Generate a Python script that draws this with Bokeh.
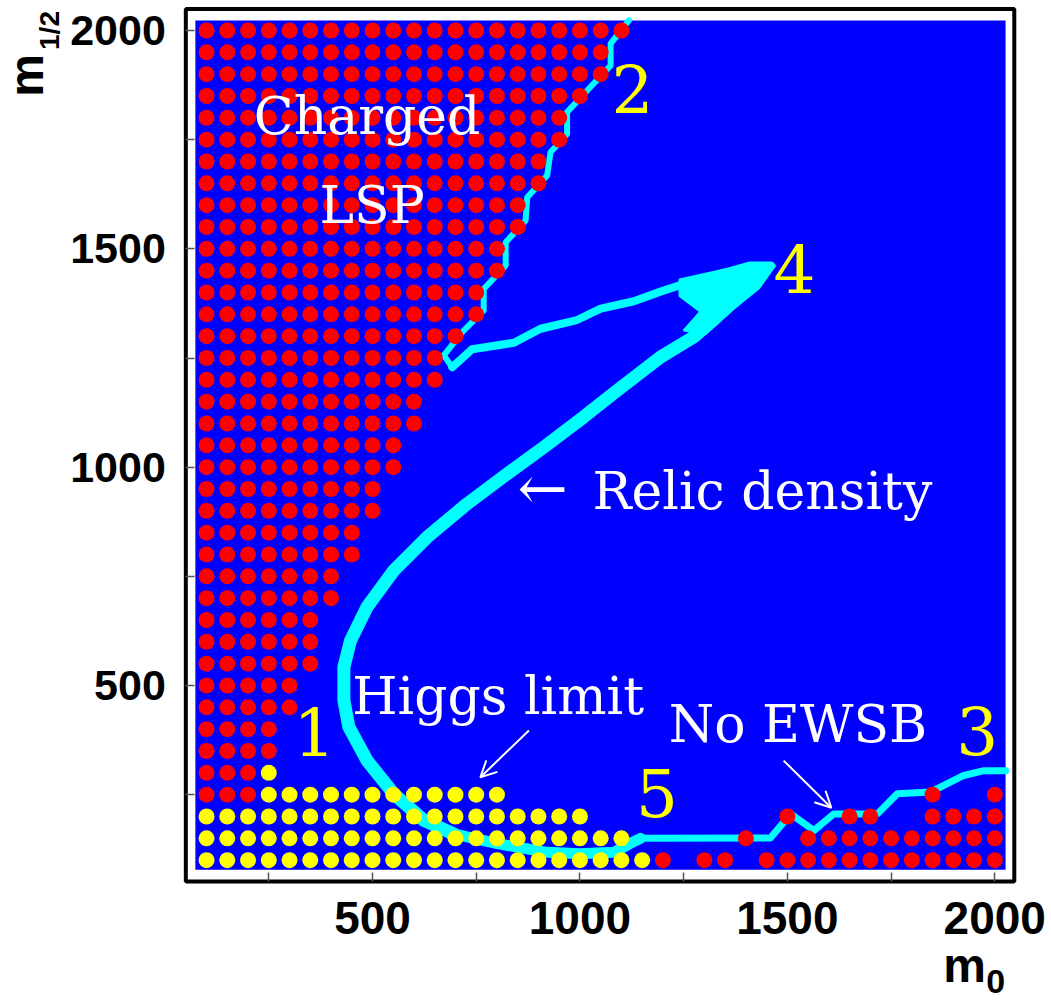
import math
from bokeh.plotting import figure
from bokeh.models import FixedTicker, Arrow, OpenHead
from bokeh.embed import file_html
from bokeh.resources import INLINE
from bokeh.core.properties import value

# ---------------- data ----------------
grid_step = 50
# Charged LSP (red) region: rows of m_1/2 and the largest m0 in each row (starting at m0=100)
lsp_m12 = [2000, 1950, 1900, 1850, 1800, 1750, 1700, 1650, 1600, 1550, 1500, 1450,
           1400, 1350, 1300, 1250, 1200, 1150, 1100, 1050, 1000, 950, 900, 850,
           800, 750, 700, 650, 600, 550, 500, 450, 400, 350, 300, 250]
lsp_m0_max = [1100, 1050, 1050, 1000, 950, 950, 900, 900, 850, 850, 800, 800,
              750, 750, 700, 650, 650, 600, 600, 550, 550, 500, 500, 450,
              450, 400, 400, 350, 350, 350, 300, 300, 250, 250, 200, 200]
lsp_m0_min = 100

# Higgs limit (yellow) rows
higgs_m12 = [300, 250, 200, 150, 100]
higgs_m0_min = [250, 250, 100, 100, 100]
higgs_m0_max = [250, 800, 1000, 1100, 1150]

# No EWSB (red) points at low m_1/2
ewsb_m0 = [1200, 1300, 1350, 1450, 1500, 1550, 1600, 1650, 1700, 1750, 1800, 1850, 1900, 1950, 2000,
           1400, 1550, 1600, 1650, 1700, 1750, 1800, 1850, 1900, 1950, 2000,
           1500, 1650, 1700, 1850, 1900, 1950, 2000,
           1850, 2000]
ewsb_m12 = [100] * 15 + [150] * 11 + [200] * 7 + [250] * 2

# Relic density band (cyan)
relic_edge_m0 = [1118, 1074, 1074, 1018, 969, 969, 929, 921, 873, 869, 821, 821, 768, 768, 716, 672, 692]
relic_edge_m12 = [2023, 1970, 1920, 1863, 1813, 1763, 1721, 1668, 1618, 1565, 1515, 1462, 1408, 1359, 1309, 1256, 1229]
relic_upper_m0 = [692, 740, 841, 905, 993, 1050, 1130, 1194, 1259, 1355, 1411, 1460]
relic_upper_m12 = [1229, 1270, 1285, 1317, 1337, 1363, 1380, 1402, 1422, 1447, 1462, 1462]
relic_tip_m0 = [1240, 1411, 1471, 1431, 1371, 1303, 1250, 1290, 1240]
relic_tip_m12 = [1430, 1466, 1462, 1409, 1363, 1305, 1313, 1356, 1392]
relic_lower_m0 = [1330, 1274, 1194, 1090, 1009, 913, 825, 728, 632, 551, 487, 447, 431, 431, 443, 487, 551, 624, 696]
relic_lower_m12 = [1345, 1298, 1252, 1176, 1115, 1046, 985, 916, 840, 763, 680, 603, 542, 466, 405, 328, 252, 191, 160]
relic_bottom_m0 = [696, 801, 921, 1001, 1082, 1120, 1146]
relic_bottom_m12 = [160, 138, 118, 115, 118, 138, 150]
relic_ewsb_m0 = [1146, 1459, 1508, 1564, 1612, 1717, 1765, 1845, 1925, 1974, 2026]
relic_ewsb_m12 = [150, 151, 206, 168, 206, 206, 252, 256, 294, 305, 305]

tick_values = [250, 500, 750, 1000, 1250, 1500, 1750, 2000]
tick_labels = {250: "", 500: "500", 750: "", 1000: "1000", 1250: "", 1500: "1500", 1750: "", 2000: "2000"}

# ---------------- build point sets ----------------
red_x, red_y = [], []
for m12, mx in zip(lsp_m12, lsp_m0_max):
    for m0 in range(lsp_m0_min, mx + 1, grid_step):
        red_x.append(m0)
        red_y.append(m12)
red_x += ewsb_m0
red_y += ewsb_m12

yel_x, yel_y = [], []
for m12, lo, hi in zip(higgs_m12, higgs_m0_min, higgs_m0_max):
    for m0 in range(lo, hi + 1, grid_step):
        yel_x.append(m0)
        yel_y.append(m12)

# ---------------- figure (frame spans the whole canvas; axes fixed at the box edges) ----------------
BOX_L, BOX_R, BOX_B, BOX_T = 50, 2047, 51, 2049
p = figure(width=1051, height=1002, x_range=(-396.7, 2136.7), y_range=(-225.9, 2068.7),
           output_backend="svg", toolbar_location=None, min_border=0)
p.background_fill_color = "white"
p.border_fill_color = "white"
p.outline_line_color = None
p.xgrid.grid_line_color = None
p.ygrid.grid_line_color = None

for ax, fs in ((p.xaxis[0], "46px"), (p.yaxis[0], "43px")):
    ax.ticker = FixedTicker(ticks=tick_values, minor_ticks=[])
    ax.major_label_overrides = tick_labels
    ax.major_label_text_font = "Liberation Sans"
    ax.major_label_text_font_style = "bold"
    ax.major_label_text_font_size = fs
    ax.major_label_text_color = "black"
    ax.axis_line_color = None
    ax.major_tick_in = 9
    ax.major_tick_out = 0
    ax.major_tick_line_color = "#555555"
    ax.major_tick_line_width = 1.5
    ax.minor_tick_line_color = None
p.xaxis.fixed_location = BOX_B
p.yaxis.fixed_location = BOX_L
p.xaxis.major_label_standoff = 20
p.yaxis.major_label_standoff = 20

# blue area and black box
p.quad(left=[73], right=[2026], bottom=[78], top=[2023], fill_color="#0000ff", line_color=None)
p.quad(left=[BOX_L], right=[BOX_R], bottom=[BOX_B], top=[BOX_T], fill_color=None,
       line_color="black", line_width=4)

cyan = "#00ffff"
p.patch(relic_tip_m0, relic_tip_m12, fill_color=cyan, line_color=cyan, line_width=2)
p.line(relic_edge_m0, relic_edge_m12, line_color=cyan, line_width=6, line_join="round", line_cap="round")
p.line(relic_upper_m0, relic_upper_m12, line_color=cyan, line_width=8, line_join="round", line_cap="round")
p.line(relic_lower_m0, relic_lower_m12, line_color=cyan, line_width=13, line_join="round", line_cap="round")
p.line(relic_bottom_m0, relic_bottom_m12, line_color=cyan, line_width=11, line_join="round", line_cap="round")
p.line(relic_ewsb_m0, relic_ewsb_m12, line_color=cyan, line_width=7, line_join="round", line_cap="round")

p.scatter(red_x, red_y, marker="circle", size=16, fill_color="#ff0000", line_color=None)
p.scatter(yel_x, yel_y, marker="circle", size=16, fill_color="#ffff00", line_color=None)

serif = value("DejaVu Serif")
p.text(x=[487, 499], y=[1804, 1601], text=["Charged", "LSP"], text_font=serif,
       text_font_size="52px", text_color="white", text_align="center", text_baseline="alphabetic")
p.text(x=[1030, 451, 1214], y=[945, 475, 411], text=["Relic density", "Higgs limit", "No EWSB"],
       text_font=serif, text_font_size="52px", text_color="white", text_align="left",
       text_baseline="alphabetic")
p.text(x=[910], y=[953], text=["\u2190"], text_font=serif, text_font_size="60px",
       text_color="white", text_align="center", text_baseline="middle")
p.text(x=[360, 1127, 1958, 1517, 1186], y=[393, 1865, 396, 1453, 255],
       text=["1", "2", "3", "4", "5"], text_font=serif, text_font_size="66px",
       text_color="#ffff00", text_align="center", text_baseline="alphabetic")

p.add_layout(Arrow(end=OpenHead(size=16, line_color="white", line_width=2),
                   x_start=877, y_start=397, x_end=760, y_end=290,
                   line_color="white", line_width=2))
p.add_layout(Arrow(end=OpenHead(size=16, line_color="white", line_width=2),
                   x_start=1491, y_start=328, x_end=1606, y_end=220,
                   line_color="white", line_width=2))

# axis titles m_1/2 and m_0
sans = value("Liberation Sans")
p.text(x=[-334], y=[1897], text=["m"], text_font=sans, text_font_style="bold",
       text_font_size="48px", angle=math.pi / 2, text_align="center",
       text_baseline="alphabetic", text_color="black")
p.text(x=[-279], y=[2000], text=["1/2"], text_font=sans, text_font_style="bold",
       text_font_size="28px", angle=math.pi / 2, text_align="center",
       text_baseline="alphabetic", text_color="black")
p.text(x=[1927], y=[-141], text=["m"], text_font=sans, text_font_style="bold",
       text_font_size="48px", text_align="center", text_baseline="alphabetic", text_color="black")
p.text(x=[2002], y=[-178], text=["0"], text_font=sans, text_font_style="bold",
       text_font_size="34px", text_align="center", text_baseline="alphabetic", text_color="black")

open("out.html", "w").write(file_html(p, INLINE))
